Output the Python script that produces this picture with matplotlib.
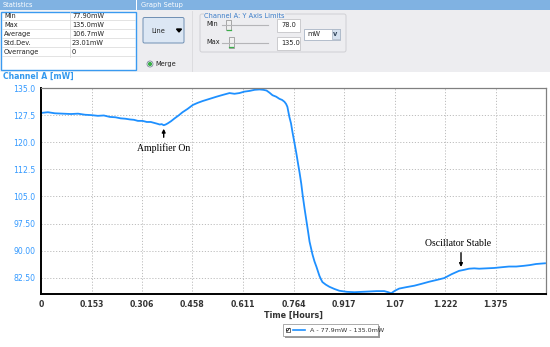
import matplotlib
matplotlib.use("Agg")
import matplotlib.pyplot as plt
from matplotlib.patches import Rectangle, FancyBboxPatch, Circle, Polygon

# ---------------- data ----------------
time_h = [0.000, 0.021, 0.042, 0.066, 0.091, 0.112, 0.133, 0.152, 0.172, 0.190,
          0.208, 0.225, 0.241, 0.255, 0.269, 0.281, 0.293, 0.307, 0.320, 0.332,
          0.344, 0.352, 0.359, 0.365, 0.371, 0.377, 0.383, 0.393, 0.404, 0.416,
          0.428, 0.443, 0.459, 0.474, 0.489, 0.510, 0.531, 0.550, 0.570, 0.585,
          0.600, 0.615, 0.631, 0.646, 0.661, 0.672, 0.682, 0.691, 0.700, 0.711,
          0.721, 0.729, 0.736, 0.741, 0.745, 0.751, 0.756, 0.760, 0.766, 0.772,
          0.777, 0.782, 0.787, 0.791, 0.797, 0.803, 0.808, 0.812, 0.817, 0.821,
          0.827, 0.833, 0.838, 0.842, 0.847, 0.851, 0.861, 0.872, 0.887, 0.902,
          0.925, 0.948, 0.970, 0.993, 1.015, 1.038, 1.050, 1.059, 1.070, 1.083,
          1.105, 1.129, 1.150, 1.174, 1.197, 1.219, 1.242, 1.264, 1.280, 1.294,
          1.310, 1.325, 1.347, 1.370, 1.392, 1.415, 1.437, 1.460, 1.478, 1.497,
          1.524]
power_mw = [128.1, 128.3, 128.0, 127.9, 127.8, 127.9, 127.6, 127.5, 127.3, 127.4,
            127.0, 126.9, 126.6, 126.5, 126.3, 126.2, 125.9, 125.9, 125.6, 125.6,
            125.3, 125.1, 124.9, 125.0, 124.7, 124.9, 125.2, 125.8, 126.6, 127.4,
            128.3, 129.2, 130.3, 130.9, 131.4, 132.0, 132.6, 133.1, 133.6, 133.4,
            133.6, 134.0, 134.2, 134.5, 134.6, 134.5, 134.3, 133.7, 133.0, 132.6,
            132.0, 131.7, 131.2, 130.6, 129.8, 127.0, 125.2, 123.0, 120.0, 117.0,
            114.2, 111.5, 108.5, 105.5, 101.6, 98.0, 95.0, 92.5, 90.5, 88.9,
            87.0, 85.5, 84.1, 83.0, 82.0, 81.3, 80.6, 80.0, 79.4, 78.9,
            78.6, 78.5, 78.6, 78.7, 78.8, 78.8, 78.5, 78.2, 78.9, 79.5,
            79.9, 80.3, 80.8, 81.4, 81.9, 82.4, 83.5, 84.4, 84.7, 85.0,
            85.1, 85.0, 85.1, 85.2, 85.4, 85.6, 85.6, 85.8, 86.0, 86.3,
            86.5]

x_ticks = [0, 0.153, 0.306, 0.458, 0.611, 0.764, 0.917, 1.07, 1.222, 1.375]
x_tick_labels = ["0", "0.153", "0.306", "0.458", "0.611", "0.764", "0.917", "1.07", "1.222", "1.375"]
y_ticks = [135.0, 127.5, 120.0, 112.5, 105.0, 97.5, 90.0, 82.5]
y_tick_labels = ["135.0", "127.5", "120.0", "112.5", "105.0", "97.50", "90.00", "82.50"]

stat_names = ["Min", "Max", "Average", "Std.Dev.", "Overrange"]
stat_values = ["77.90mW", "135.0mW", "106.7mW", "23.01mW", "0"]

W, H = 550, 347
fig = plt.figure(figsize=(W / 100, H / 100), dpi=100)
fig.patch.set_facecolor("white")

# background / UI axes in pixel coords
ui = fig.add_axes([0, 0, 1, 1])
ui.set_xlim(0, W)
ui.set_ylim(H, 0)
ui.axis("off")

BLUE_HDR = "#80B2E2"
UI_FS = 4.8
ui.add_patch(Rectangle((0, 0), 136, 10, color=BLUE_HDR, lw=0))
ui.add_patch(Rectangle((137, 0), 413, 10, color=BLUE_HDR, lw=0))
ui.text(3, 5.2, "Statistics", color="white", fontsize=UI_FS, va="center")
ui.text(141, 5.2, "Graph Setup", color="white", fontsize=UI_FS, va="center")
ui.add_patch(Rectangle((137, 10), 413, 62, color="#EDEDF0", lw=0))
ui.add_patch(Rectangle((0, 10), 137, 62, color="#F4F4F6", lw=0))
# stats table
ui.add_patch(Rectangle((1, 11.5), 134.5, 58.5, facecolor="white", edgecolor="#3A9AF0", lw=1.0))
for i, (n, v) in enumerate(zip(stat_names, stat_values)):
    yc = 15.7 + i * 9.0
    ui.text(4, yc, n, fontsize=UI_FS, va="center", color="#222222")
    ui.text(72, yc, v, fontsize=UI_FS, va="center", color="#222222")
    ui.plot([2, 135], [yc + 4.5, yc + 4.5], color="#D8D8D8", lw=0.5)
ui.plot([70, 70], [12, 56.5], color="#D8D8D8", lw=0.5)

# Line button
ui.add_patch(FancyBboxPatch((143, 17.5), 41, 25.5, boxstyle="round,pad=0,rounding_size=1.5",
                            facecolor="#DCE7F4", edgecolor="#6F8FB3", lw=0.7))
ui.text(158, 30.5, "Line", fontsize=UI_FS, va="center", ha="center", color="#222222")
ui.add_patch(Polygon([[176.5, 29], [181.5, 29], [179, 32]], closed=True, color="black"))
ui.plot([191.5, 191.5], [11, 71], color="#D9D9DC", lw=0.6)
# Merge radio
ui.add_patch(Circle((150, 64), 3.0, facecolor="white", edgecolor="#7A8A9A", lw=0.6))
ui.add_patch(Circle((150, 64), 1.4, color="#3BAF4A"))
ui.text(155, 64.3, "Merge", fontsize=UI_FS, va="center", color="#222222")

# group box
ui.add_patch(FancyBboxPatch((200, 14), 146, 38, boxstyle="round,pad=0,rounding_size=2",
                            facecolor="none", edgecolor="#D0D0D4", lw=0.7))
ui.text(204, 15.5, "Channel A: Y Axis Limits", fontsize=UI_FS, va="center", color="#3A7CC8",
        bbox=dict(facecolor="#EDEDF0", edgecolor="none", pad=0.3))
for yc, lab, tx, val in [(24.5, "Min", 228.5, "78.0"), (42, "Max", 231, "135.0")]:
    ui.text(206, yc - 0.5, lab, fontsize=UI_FS, va="center", color="#222222")
    ui.plot([222, 268], [yc + 0.8, yc + 0.8], color="#B5B5B8", lw=0.8)
    ui.add_patch(Rectangle((tx - 2.5, yc - 5), 5, 10.5, facecolor="#F0F0F0", edgecolor="#8A8A8A", lw=0.5))
    ui.plot([tx - 2, tx + 2], [yc + 5, yc + 5], color="#3BAF4A", lw=0.9)
    ui.add_patch(Rectangle((277, yc - 5.5), 22.5, 13, facecolor="white", edgecolor="#C4C4C8", lw=0.6))
    ui.text(281, yc + 0.5, val, fontsize=UI_FS, va="center", color="#222222")
ui.add_patch(Rectangle((304, 28.5), 36, 11, facecolor="white", edgecolor="#A8B4C4", lw=0.6))
ui.add_patch(Rectangle((331.5, 29), 8, 10, facecolor="#D6E2F0", edgecolor="#A8B4C4", lw=0.5))
ui.text(307, 34, "mW", fontsize=UI_FS, va="center", color="#222222")
ui.text(335.5, 33.8, "v", fontsize=UI_FS, va="center", ha="center", color="#33485E", fontweight="bold")

# channel label
ui.text(3, 76.5, "Channel A [mW]", fontsize=5.6, fontweight="bold", va="center", color="#3399EE")

# ---------------- chart ----------------
L, R, T, B = 41, 546, 88, 294
ax = fig.add_axes([L / W, (H - B) / H, (R - L) / W, (B - T) / H])
ax.plot(time_h, power_mw, color="#1E90FF", lw=1.3, solid_joinstyle="round")
ax.set_xlim(0, 1.527)
ax.set_ylim(78.0, 135.0)
ax.set_xticks(x_ticks)
ax.set_xticklabels(x_tick_labels)
ax.set_yticks(y_ticks)
ax.set_yticklabels(y_tick_labels)
ax.grid(True, color="#BDBDBD", ls=(0, (1.2, 1.8)), lw=0.7)
ax.tick_params(axis="both", length=0, pad=4)
ax.tick_params(axis="y", labelcolor="#3399FF", labelsize=5.6)
ax.tick_params(axis="x", labelcolor="#333333", labelsize=5.6)
for lab in ax.get_xticklabels():
    lab.set_fontweight("bold")
for s in ("left", "bottom"):
    ax.spines[s].set_color("black")
    ax.spines[s].set_linewidth(1.4)
for s in ("top", "right"):
    ax.spines[s].set_color("#808080")
    ax.spines[s].set_linewidth(0.9)
ax.set_xlabel("Time [Hours]", fontsize=5.8, fontweight="bold", color="#333333", labelpad=2)

# annotations
ax.annotate("", xy=(0.371, 124.5), xytext=(0.371, 120.6),
            arrowprops=dict(arrowstyle="-|>", color="black", lw=1.0, mutation_scale=5))
ax.text(0.371, 118.4, "Amplifier On", fontsize=7, family="Liberation Serif", ha="center", va="center")
ax.annotate("", xy=(1.270, 84.7), xytext=(1.270, 90.2),
            arrowprops=dict(arrowstyle="-|>", color="black", lw=1.0, mutation_scale=5))
ax.text(1.262, 92.0, "Oscillator Stable", fontsize=7, family="Liberation Serif", ha="center", va="center")

# legend box (drawn in UI coords)
ui.add_patch(Rectangle((284.5, 325.5), 95, 12, facecolor="#9A9A9A", lw=0))
ui.add_patch(Rectangle((283, 324), 95, 12, facecolor="white", edgecolor="#8A8A8A", lw=0.5))
ui.add_patch(Rectangle((285.5, 327.5), 4.5, 4.5, facecolor="white", edgecolor="#333333", lw=0.5))
ui.plot([286.3, 287.6, 289.3], [329.8, 331.2, 328.2], color="black", lw=0.5)
ui.plot([293, 305], [330, 330], color="#1E90FF", lw=1.2)
ui.text(310, 330.3, "A - 77.9mW - 135.0mW", fontsize=4.6, va="center", color="#333333")

fig.savefig("out.png", dpi=100)
